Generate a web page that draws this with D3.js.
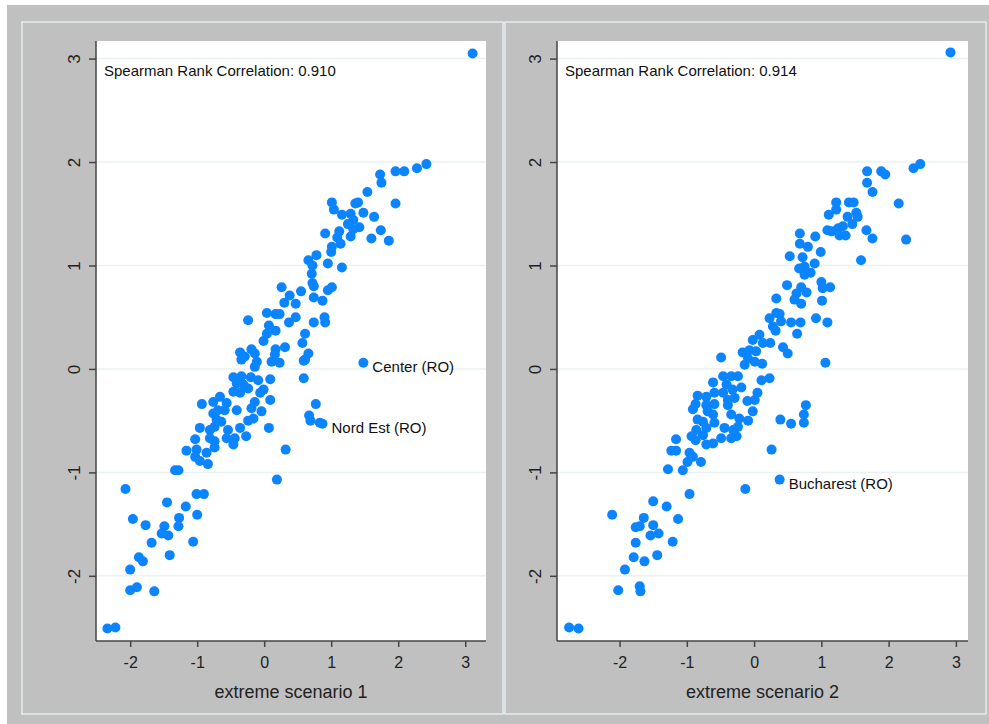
<!DOCTYPE html>
<html>
<head>
<meta charset="utf-8">
<script src="https://cdn.jsdelivr.net/npm/d3@7"></script>
<style>
  body { margin: 0; background: #fff; }
  svg { display: block; font-family: "Liberation Sans", Arial, sans-serif; }
</style>
</head>
<body>
<svg id="chart" width="989" height="724"></svg>
<script>
// values
const yTicks = [-2, -1, 0, 1, 2, 3];
const xTicks = [-2, -1, 0, 1, 2, 3];
const correlations = ['0.910', '0.914'];
const axisTitles = ['extreme scenario 1', 'extreme scenario 2'];

const scenario1Points = [
  [3.11,3.05],
  [2.42,1.98],[2.28,1.94],[2.09,1.91],[1.96,1.91],[1.73,1.88],[1.75,1.80],[1.54,1.71],[1.96,1.60],[1.01,1.61],[1.40,1.61],
  [1.36,1.60],[1.04,1.54],[1.16,1.49],[1.29,1.50],[1.48,1.51],[1.64,1.47],[1.33,1.44],[1.25,1.40],[1.42,1.37],[1.74,1.34],
  [1.12,1.33],[0.91,1.31],[1.33,1.35],[1.29,1.28],[1.09,1.27],[1.14,1.21],[1.60,1.26],[1.86,1.24],[1.01,1.18],[1.00,1.13],
  [0.78,1.10],[0.66,1.05],[0.95,1.02],[1.16,0.98],[0.72,1.00],[0.71,0.92],[0.72,0.83],[0.74,0.80],[0.26,0.79],[1.01,0.79],
  [0.95,0.76],[0.55,0.75],[0.38,0.71],[0.74,0.69],[0.87,0.66],[0.47,0.63],[0.30,0.64],[0.04,0.54],[0.17,0.53],[0.23,0.53],
  [-0.24,0.47],[0.47,0.50],[0.37,0.45],[0.90,0.50],[0.91,0.45],[0.74,0.45],[0.07,0.42],[0.17,0.37],[0.04,0.34],[0.61,0.34],
  [-0.01,0.27],[0.57,0.25],[0.31,0.21],[-0.36,0.16],[-0.29,0.12],[-0.19,0.19],[-0.14,0.15],[-0.11,0.07],[0.17,0.19],[0.16,0.14],
  [0.11,0.07],[0.23,0.06],[0.66,0.15],[0.61,0.09],[1.48,0.06],[-0.34,0.09],[-0.14,0.02],[0.59,0.08],
  [-0.46,-0.08],[-0.34,-0.07],[-0.20,-0.08],[-0.09,-0.11],[0.09,-0.10],[0.59,-0.09],[-0.41,-0.14],[-0.31,-0.15],[-0.24,-0.19],
  [-0.01,-0.20],[-0.06,-0.23],[-0.46,-0.22],[-0.36,-0.23],[-0.66,-0.27],[-0.76,-0.32],[-0.93,-0.34],[-0.56,-0.33],[-0.59,-0.40],
  [-0.69,-0.40],[-0.41,-0.40],[-0.14,-0.32],[-0.19,-0.38],[0.09,-0.30],[0.77,-0.34],[-0.04,-0.41],[-0.76,-0.43],[-0.16,-0.48],
  [-0.24,-0.50],[0.67,-0.45],[0.69,-0.50],[0.83,-0.52],[0.87,-0.53],[-0.71,-0.49],[-0.64,-0.51],[-0.74,-0.56],[-0.81,-0.59],
  [-0.54,-0.59],[-0.96,-0.57],[-0.36,-0.57],[0.07,-0.57],[-0.27,-0.65],[-0.81,-0.67],[-0.74,-0.70],[-1.03,-0.68],[-0.56,-0.67],
  [-0.44,-0.67],[-0.46,-0.73],[-0.74,-0.76],[-1.16,-0.79],[-1.01,-0.78],[-0.86,-0.81],[-1.03,-0.85],[-0.96,-0.89],[-0.84,-0.92],
  [0.32,-0.78],[-1.33,-0.98],[-1.28,-0.98],[0.19,-1.07],[-2.07,-1.16],[-1.01,-1.21],[-0.90,-1.21],[-1.45,-1.29],[-1.17,-1.33],
  [-1.00,-1.41],[-1.27,-1.44],[-1.28,-1.52],[-1.96,-1.45],[-1.77,-1.51],[-1.49,-1.52],[-1.53,-1.59],[-1.43,-1.61],[-1.68,-1.68],
  [-1.06,-1.67],[-1.41,-1.80],[-1.87,-1.82],[-1.81,-1.86],[-2.00,-1.94],[-2.00,-2.14],[-1.90,-2.11],[-1.64,-2.15],
  [-2.34,-2.51],[-2.22,-2.50]
];

const scenario2Points = [
  [2.92,3.06],
  [2.47,1.98],[2.37,1.94],[1.89,1.91],[1.95,1.88],[1.68,1.91],[1.68,1.80],[1.76,1.71],[2.15,1.60],[1.22,1.61],[1.41,1.61],
  [1.48,1.61],[1.22,1.54],[1.11,1.49],[1.52,1.51],[1.54,1.47],[1.39,1.47],[1.46,1.40],[1.32,1.38],[1.25,1.36],[1.09,1.34],
  [1.15,1.33],[1.67,1.34],[1.27,1.29],[1.36,1.29],[1.76,1.26],[2.26,1.25],[0.68,1.31],[0.91,1.28],[0.68,1.21],[0.80,1.18],
  [0.99,1.13],[0.53,1.09],[0.72,1.08],[1.59,1.05],[0.90,1.02],[0.67,0.97],[0.75,0.99],[0.84,0.93],[0.75,0.91],[0.49,0.81],
  [1.00,0.84],[1.02,0.78],[1.13,0.79],[0.70,0.79],[0.78,0.74],[0.33,0.68],[0.63,0.73],[0.60,0.67],[0.70,0.63],[1.01,0.66],
  [0.33,0.54],[0.38,0.53],[0.23,0.49],[0.40,0.46],[0.55,0.45],[0.69,0.45],[0.92,0.49],[1.09,0.45],[0.28,0.41],[0.32,0.37],
  [0.64,0.34],[0.08,0.33],[-0.02,0.28],[0.24,0.25],[0.13,0.25],[0.43,0.21],[0.50,0.15],[-0.49,0.11],[-0.17,0.16],[-0.07,0.18],
  [0.03,0.17],[-0.09,0.10],[0.01,0.07],[-0.14,0.04],[0.12,0.05],[1.06,0.06],
  [-0.61,-0.13],[-0.46,-0.07],[-0.34,-0.07],[-0.24,-0.07],[-0.41,-0.15],[-0.32,-0.20],[-0.19,-0.18],[0.11,-0.11],[0.23,-0.09],
  [-0.84,-0.26],[-0.71,-0.27],[-0.59,-0.23],[-0.46,-0.23],[-0.39,-0.30],[-0.29,-0.28],[0.05,-0.23],[-0.10,-0.31],[0.01,-0.30],
  [-0.87,-0.34],[-0.91,-0.39],[-0.71,-0.35],[-0.59,-0.34],[-0.39,-0.35],[0.77,-0.35],[-0.02,-0.41],[-0.69,-0.41],[-0.61,-0.44],
  [-0.34,-0.44],[0.74,-0.44],[0.74,-0.52],[0.39,-0.49],[0.55,-0.53],[-0.22,-0.48],[-0.09,-0.50],[-0.84,-0.49],[-0.76,-0.51],
  [-0.59,-0.52],[-0.86,-0.59],[-0.71,-0.57],[-0.76,-0.64],[-0.44,-0.57],[-0.31,-0.59],[-0.24,-0.56],[-0.93,-0.65],[-0.87,-0.69],
  [-0.49,-0.67],[-0.34,-0.67],[-0.26,-0.65],[-0.71,-0.73],[-0.61,-0.72],[-1.16,-0.68],[-1.23,-0.79],[-1.16,-0.79],[-0.96,-0.81],
  [-0.91,-0.85],[-0.99,-0.90],[-1.06,-0.98],[-0.79,-0.90],[-1.28,-0.97],[0.26,-0.78],[-0.13,-1.16],[0.38,-1.07],[-0.96,-1.21],
  [-1.50,-1.28],[-1.30,-1.33],[-2.11,-1.41],[-1.13,-1.45],[-1.64,-1.44],[-1.70,-1.52],[-1.76,-1.53],[-1.50,-1.51],[-1.54,-1.61],
  [-1.42,-1.59],[-1.76,-1.68],[-1.21,-1.67],[-1.79,-1.82],[-1.63,-1.86],[-1.44,-1.80],[-1.92,-1.94],[-2.02,-2.14],[-1.70,-2.10],
  [-1.69,-2.15],[-2.75,-2.50],[-2.61,-2.51]
];

const scenario1Labels = [
  { text: 'Center (RO)', x: 1.48, y: 0.06 },
  { text: 'Nord Est (RO)', x: 0.87, y: -0.53 }
];
const scenario2Labels = [
  { text: 'Bucharest (RO)', x: 0.38, y: -1.07 }
];

const svg = d3.select('#chart');

// outer gray background
svg.append('rect').attr('x', 7).attr('y', 5).attr('width', 982).attr('height', 719).attr('fill', '#c0c0c0');

const panels = [
  { frame: [22, 22, 481, 692], plot: [96, 41, 486, 641], xDomain: [-2.51, 3.31], points: scenario1Points,
    labels: scenario1Labels, corr: correlations[0], title: axisTitles[0] },
  { frame: [505, 22, 481, 692], plot: [557, 41, 968, 641], xDomain: [-2.93, 3.18], points: scenario2Points,
    labels: scenario2Labels, corr: correlations[1], title: axisTitles[1] }
];

// plain hyphen for negatives, like the original
const tickFmt = d => String(d);

panels.forEach(p => {
  const [fx, fy, fw, fh] = p.frame;
  svg.append('rect').attr('x', fx).attr('y', fy).attr('width', fw).attr('height', fh)
    .attr('fill', 'none').attr('stroke', '#e4ecee').attr('stroke-width', 1.5);

  const [x0, y0, x1, y1] = p.plot;
  const x = d3.scaleLinear().domain(p.xDomain).range([x0, x1]);
  const y = d3.scaleLinear().domain([-2.63, 3.17]).range([y1, y0]);

  const g = svg.append('g');
  g.append('rect').attr('x', x0).attr('y', y0).attr('width', x1 - x0).attr('height', y1 - y0).attr('fill', '#fff');

  // horizontal grid lines
  g.selectAll('.grid').data(yTicks).enter().append('line')
    .attr('x1', x0).attr('x2', x1)
    .attr('y1', d => y(d)).attr('y2', d => y(d))
    .attr('stroke', '#eaf1f3').attr('stroke-width', 1.5);

  // axes
  const yAxis = g.append('g').attr('transform', `translate(${x0},0)`)
    .call(d3.axisLeft(y).tickValues(yTicks).tickSize(7).tickFormat(tickFmt));
  yAxis.selectAll('text')
    .attr('transform', 'rotate(-90, -22, 0)')
    .attr('x', -22).attr('y', 0).attr('dy', '0.35em').attr('text-anchor', 'middle');

  const xAxis = g.append('g').attr('transform', `translate(0,${y1})`)
    .call(d3.axisBottom(x).tickValues(xTicks).tickSize(6).tickPadding(10).tickFormat(tickFmt));

  [yAxis, xAxis].forEach(a => {
    a.select('.domain').attr('stroke', '#444').attr('stroke-width', 1.5);
    a.selectAll('.tick line').attr('stroke', '#444').attr('stroke-width', 1.5);
    a.selectAll('text').attr('font-size', 16).attr('fill', '#222').attr('font-family', '"Liberation Sans", Arial, sans-serif');
  });
  yAxis.selectAll('text').attr('font-size', 17);
  // keep axis lines to plot extents
  yAxis.select('.domain').attr('d', `M0,${y0}V${y1}`);
  xAxis.select('.domain').attr('d', `M${x0},0H${x1}`);

  // points
  g.selectAll('.pt').data(p.points).enter().append('circle')
    .attr('cx', d => x(d[0])).attr('cy', d => y(d[1]))
    .attr('r', 5).attr('fill', '#0a84ff');

  // point labels
  g.selectAll('.lbl').data(p.labels).enter().append('text')
    .attr('x', d => x(d.x) + 9).attr('y', d => y(d.y) + 9)
    .attr('font-size', 15).attr('fill', '#111').text(d => d.text);

  g.append('text').attr('x', x0 + 8).attr('y', 76)
    .attr('font-size', 15).attr('fill', '#111')
    .text('Spearman Rank Correlation: ' + p.corr);

  g.append('text').attr('x', (x0 + x1) / 2).attr('y', 698)
    .attr('text-anchor', 'middle').attr('font-size', 18).attr('fill', '#222')
    .text(p.title);
});
</script>
</body>
</html>
